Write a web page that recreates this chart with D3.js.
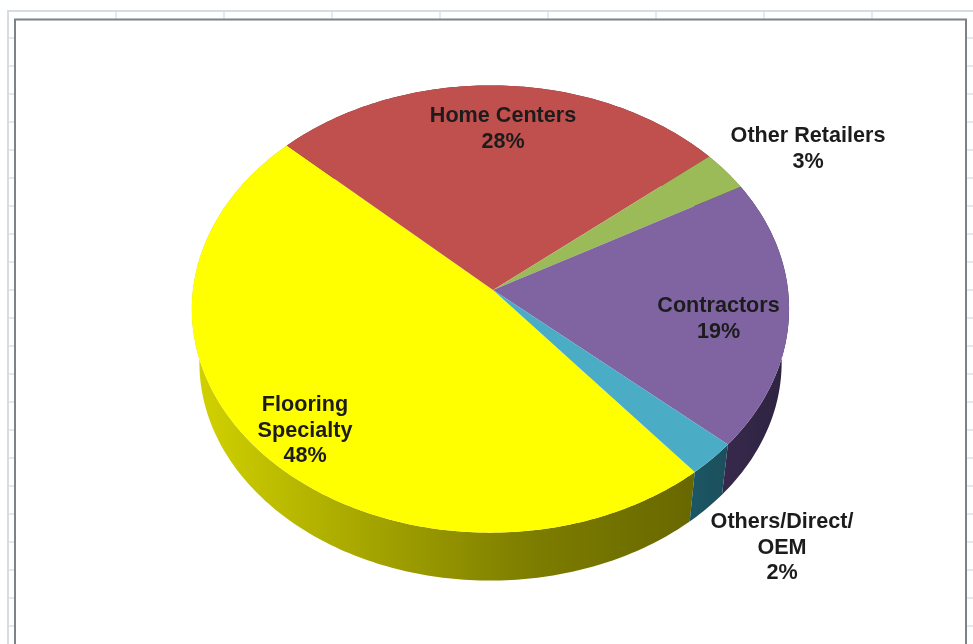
<!DOCTYPE html>
<html>
<head>
<meta charset="utf-8">
<script src="https://cdnjs.cloudflare.com/ajax/libs/d3/7.8.5/d3.min.js"></script>
<style>
  html, body { margin: 0; padding: 0; background: #fff; overflow: hidden; }
  svg { display: block; filter: blur(0.45px); }
  text { font-family: "Liberation Sans", Arial, sans-serif; font-weight: bold; font-size: 21.6px; fill: #1c1c1c; text-anchor: middle; }
</style>
</head>
<body>
<svg id="chart" width="973" height="644"></svg>
<script>
// values, clockwise from the Flooring/Others edge
var categories = ["Flooring Specialty", "Home Centers", "Other Retailers", "Contractors", "Others/Direct/OEM"];
var shares = [48.0, 27.0, 2.9, 19.6, 2.5];
var percentLabels = ["48%", "28%", "3%", "19%", "2%"];
var labelLines = [["Flooring", "Specialty"], ["Home Centers"], ["Other Retailers"], ["Contractors"], ["Others/Direct/", "OEM"]];
var topColors = ["#ffff00", "#c0504d", "#9bbb59", "#8064a2", "#4bacc6"];
var wallStops = [
  ["#d2d200", "#a6a600", "#7d7d00", "#676700"],
  ["#6e2c2a", "#6e2c2a"],
  ["#566830", "#566830"],
  ["#3b2c52", "#2e2340"],
  ["#1c5664", "#1c4450"]
];

var width = 973, height = 644;
var svg = d3.select("#chart");

// spreadsheet behind the chart
var gridColor = "#dbe2e8";
svg.append("g").selectAll("line").data(d3.range(116, 973, 108)).join("line")
  .attr("x1", d => d).attr("x2", d => d).attr("y1", 11).attr("y2", 19)
  .attr("stroke", gridColor).attr("stroke-width", 1.5);
svg.append("g").selectAll("line").data(d3.range(38, 644, 28)).join("line")
  .attr("x1", 8).attr("x2", 973).attr("y1", d => d).attr("y2", d => d)
  .attr("stroke", gridColor).attr("stroke-width", 1.5);
svg.append("path").attr("d", "M8,644V11H973").attr("fill", "none").attr("stroke", "#d5dde3").attr("stroke-width", 2);
svg.append("rect").attr("x", 15).attr("y", 19.5).attr("width", 951).attr("height", 640)
  .attr("fill", "#fff").attr("stroke", "#7c8286").attr("stroke-width", 2);

// tilted disc with a bit of perspective: apex sits above and right of the centre of the outline
var apex = {x: 493, y: 290}, radiusX = 297.5, radiusY = 222, persp = 0.085, perspSide = 0.0085;
var wallDrop = 54, wallShrink = 0.975;

function rim(angle, r) {
  var u = Math.sin(angle), v = -Math.cos(angle), w = 1 - persp * v + perspSide * u;
  return [radiusX * u / w * r, radiusY * v / w * r];
}
function topPoint(angle) {
  var p = rim(angle, 1);
  return [apex.x + p[0], apex.y + p[1]];
}
function bottomPoint(angle) {
  var p = rim(angle, wallShrink);
  return [apex.x + p[0], apex.y + wallDrop + p[1]];
}
function arcAngles(d) {
  var n = Math.max(2, Math.ceil((d.endAngle - d.startAngle) * 60));
  return d3.range(n + 1).map(i => d.startAngle + (d.endAngle - d.startAngle) * i / n);
}

var startDeg = 140.4;
var pie = d3.pie().sort(null).value(d => d)
  .startAngle(startDeg * Math.PI / 180)
  .endAngle((startDeg + 360) * Math.PI / 180);
var slices = pie(shares);
var line = d3.line();

var defs = svg.append("defs");
wallStops.forEach(function(stops, i) {
  var g = defs.append("linearGradient").attr("id", "wall" + i)
    .attr("gradientUnits", "userSpaceOnUse")
    .attr("x1", i == 0 ? 195 : 690).attr("x2", i == 0 ? 700 : 785)
    .attr("y1", 0).attr("y2", 0);
  stops.forEach(function(c, j) {
    g.append("stop").attr("offset", j / (stops.length - 1)).attr("stop-color", c);
  });
});

// walls first, the top face hides whatever is at the back
svg.append("g").selectAll("path").data(slices).join("path")
  .attr("d", function(d) {
    var a = arcAngles(d);
    return line(a.map(topPoint).concat(a.slice().reverse().map(bottomPoint))) + "Z";
  })
  .attr("fill", (d, i) => "url(#wall" + i + ")");

svg.append("g").selectAll("path").data(slices).join("path")
  .attr("d", function(d) {
    return line([[apex.x, apex.y]].concat(arcAngles(d).map(topPoint))) + "Z";
  })
  .attr("fill", (d, i) => topColors[i]);

// label centres and first baselines, as placed in the picture
var labelSpots = [[305, 411], [503, 122], [808, 142], [718.5, 312], [782, 528]];
var lineGap = 25.5;
var labels = svg.append("g").selectAll("text").data(categories).join("text")
  .attr("transform", (d, i) => "translate(" + labelSpots[i][0] + "," + labelSpots[i][1] + ")");
labels.selectAll("tspan")
  .data((d, i) => labelLines[i].concat(percentLabels[i]))
  .join("tspan")
  .attr("x", 0)
  .attr("y", (d, j) => j * lineGap)
  .text(d => d);
</script>
</body>
</html>
